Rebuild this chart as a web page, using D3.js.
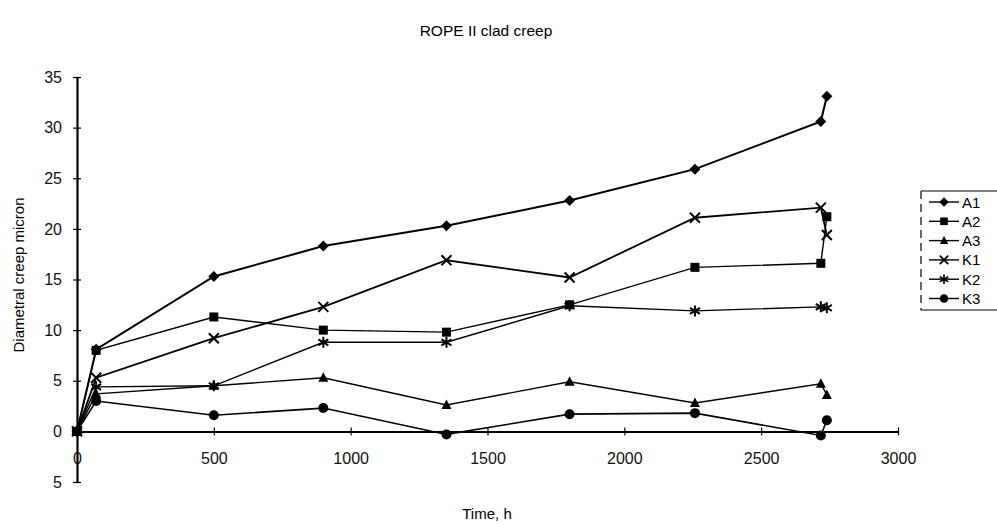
<!DOCTYPE html>
<html>
<head>
<meta charset="utf-8">
<script src="https://cdn.jsdelivr.net/npm/d3@7"></script>
<style>
  body { margin: 0; background: #fff; }
  svg { display: block; font-family: "Liberation Sans", Arial, sans-serif; }
</style>
</head>
<body>
<svg id="chart" width="997" height="525"></svg>
<script>
// time points (h)
var times = [0, 70, 500, 900, 1350, 1800, 2258, 2718, 2740];

// diametral creep, micron
var A1 = [0, 8.1, 15.3, 18.3, 20.3, 22.8, 25.9, 30.6, 33.1];
var A2 = [0, 8.0, 11.3, 10.0, 9.8, 12.5, 16.2, 16.6, 21.2];
var A3 = [0, 3.7, 4.5, 5.3, 2.6, 4.9, 2.8, 4.7, 3.6];
var K1 = [0, 5.3, 9.2, 12.3, 16.9, 15.2, 21.1, 22.1, 19.4];
var K2 = [0, 4.4, 4.5, 8.8, 8.8, 12.4, 11.9, 12.3, 12.2];
var K3 = [0, 3.0, 1.6, 2.3, -0.3, 1.7, 1.8, -0.4, 1.1];

var seriesNames = ["A1", "A2", "A3", "K1", "K2", "K3"];
var seriesValues = [A1, A2, A3, K1, K2, K3];
var markers = ["diamond", "square", "triangle", "cross", "star", "circle"];

var xTicks = [0, 500, 1000, 1500, 2000, 2500, 3000];
var yTicks = [-5, 0, 5, 10, 15, 20, 25, 30, 35];

var svg = d3.select("#chart");

var x = d3.scaleLinear().domain([0, 3000]).range([77, 898]);
var y = d3.scaleLinear().domain([-5, 35]).range([482, 77]);

// title + axis titles
svg.append("text").attr("x", 486).attr("y", 36).attr("text-anchor", "middle")
   .style("font-size", "15.5px").text("ROPE II clad creep");
svg.append("text").attr("x", 487).attr("y", 519).attr("text-anchor", "middle")
   .style("font-size", "15px").text("Time, h");
svg.append("text").attr("transform", "translate(24,275) rotate(-90)").attr("text-anchor", "middle")
   .style("font-size", "15px").text("Diametral creep  micron");

// x axis sits at y = 0
var xAxis = svg.append("g").attr("transform", "translate(0," + y(0) + ")")
   .call(d3.axisBottom(x).tickValues(xTicks).tickSizeInner(4).tickSizeOuter(0).tickPadding(17)
      .tickFormat(d3.format("d")));
xAxis.select(".domain").attr("stroke-width", 2);
xAxis.selectAll(".tick line").attr("y1", -4).attr("stroke-width", 1.2);
xAxis.selectAll(".tick text").style("font-size", "16px").attr("fill", "#111");

var yAxis = svg.append("g").attr("transform", "translate(" + x(0) + ",0)")
   .call(d3.axisLeft(y).tickValues(yTicks).tickSizeInner(4).tickSizeOuter(0).tickPadding(11)
      .tickFormat(function(d) { return Math.abs(d); }));
yAxis.select(".domain").attr("stroke-width", 2.2);
yAxis.selectAll(".tick line").attr("x1", 4).attr("x2", -4).attr("stroke-width", 1.2);
yAxis.selectAll(".tick text").style("font-size", "16px").attr("fill", "#111");

// marker drawing
function marker(g, type, size) {
  var s = size || 1;
  if (type === "diamond") {
    g.append("path").attr("d", "M0,-5.5L5.5,0L0,5.5L-5.5,0Z").attr("transform", "scale(" + s + ")").attr("fill", "#000");
  } else if (type === "square") {
    g.append("rect").attr("x", -4.5 * s).attr("y", -4.5 * s).attr("width", 9 * s).attr("height", 9 * s).attr("fill", "#000");
  } else if (type === "triangle") {
    g.append("path").attr("d", "M0,-5.5L5,4L-5,4Z").attr("transform", "scale(" + s + ")").attr("fill", "#000");
  } else if (type === "cross") {
    g.append("path").attr("d", "M-5,-5L5,5M-5,5L5,-5").attr("transform", "scale(" + s + ")")
     .attr("stroke", "#000").attr("stroke-width", 2);
  } else if (type === "star") {
    g.append("path").attr("d", "M0,-5.5L0,5.5M-5,-3L5,3M-5,3L5,-3").attr("transform", "scale(" + s + ")")
     .attr("stroke", "#000").attr("stroke-width", 2);
  } else if (type === "circle") {
    g.append("circle").attr("r", 5 * s).attr("fill", "#000");
  }
}

var line = d3.line()
  .x(function(d) { return x(d.t); })
  .y(function(d) { return y(d.v); });

var lineWidths = [2, 1.4, 1.4, 1.8, 1.4, 1.6];

seriesValues.forEach(function(vals, i) {
  var pts = vals.map(function(v, j) { return { t: times[j], v: v }; });
  svg.append("path").datum(pts).attr("d", line)
     .attr("fill", "none").attr("stroke", "#000").attr("stroke-width", lineWidths[i]);
  pts.forEach(function(p) {
    var g = svg.append("g").attr("transform", "translate(" + x(p.t) + "," + y(p.v) + ")");
    marker(g, markers[i]);
  });
});

// legend
var legend = svg.append("g").attr("transform", "translate(921,191)");
legend.append("path").attr("d", "M0,0H80M0,119H80").attr("stroke", "#000").attr("stroke-width", 1);
legend.append("path").attr("d", "M0,0V119").attr("stroke", "#000").attr("stroke-width", 1.2)
      .attr("stroke-dasharray", "8,5");
seriesNames.forEach(function(name, i) {
  var row = legend.append("g").attr("transform", "translate(0," + (11 + i * 19.3) + ")");
  row.append("line").attr("x1", 8).attr("x2", 38).attr("stroke", "#000").attr("stroke-width", 1.4);
  var g = row.append("g").attr("transform", "translate(23,0)");
  marker(g, markers[i], 0.85);
  row.append("text").attr("x", 41).attr("y", 5.5).style("font-size", "15px").text(name);
});
</script>
</body>
</html>
